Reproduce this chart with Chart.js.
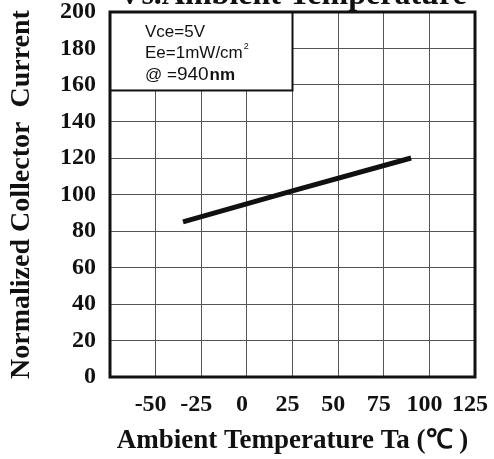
<!DOCTYPE html>
<html>
<head>
<meta charset="utf-8">
<script src="https://cdn.jsdelivr.net/npm/chart.js@4.4.0/dist/chart.umd.min.js"></script>
<style>
html, body { margin: 0; padding: 0; background: #fff; }
#frame { width: 494px; height: 459px; overflow: hidden; position: relative; }
#box { position: absolute; left: 0; top: -22px; width: 494px; height: 481px; }
</style>
</head>
<body>
<div id="frame"><div id="box"><canvas id="tempChart"></canvas></div></div>
<script>
// values
var temps = [-35, 25, 90];
var currents = [85, 102, 120];

var xMin = -75, xMax = 125, xStep = 25;
var yMin = 0, yMax = 200, yStep = 20;
var hiddenTick = -75;

var noteLines = ['Vce=5V', 'Ee=1mW/cm', '@ =940nm'];

var serif = "'Liberation Serif', 'Times New Roman', serif";
var sans = "'Liberation Sans', Arial, sans-serif";

var notePlugin = {
    id: 'note',
    beforeDatasetsDraw: function (chart) {
        var ctx = chart.ctx, xs = chart.scales.x, ys = chart.scales.y;
        var left = xs.getPixelForValue(xMin), right = xs.getPixelForValue(25);
        var top = ys.getPixelForValue(yMax), bottom = ys.getPixelForValue(157);
        ctx.save();
        ctx.fillStyle = '#fff';
        ctx.fillRect(left, top, right - left, bottom - top);
        ctx.strokeStyle = '#111';
        ctx.lineWidth = 2;
        ctx.strokeRect(left, top, right - left, bottom - top);
        ctx.fillStyle = '#111';
        ctx.textBaseline = 'alphabetic';
        ctx.font = '17px ' + sans;
        var tx = left + 35;
        ctx.fillText(noteLines[0], tx, top + 25);
        ctx.fillText(noteLines[1], tx, top + 46);
        var w = ctx.measureText(noteLines[1]).width;
        ctx.font = '9px ' + sans;
        ctx.fillText('2', tx + w + 1, top + 37);
        ctx.font = '17px ' + sans;
        ctx.fillText('@ =', tx, top + 68);
        var w2 = ctx.measureText('@ =').width;
        ctx.font = '19px ' + sans;
        ctx.fillText('940', tx + w2, top + 68);
        var w3 = ctx.measureText('940').width;
        ctx.font = 'bold 17px ' + sans;
        ctx.fillText('nm', tx + w2 + w3 + 1, top + 68);
        ctx.restore();
    },
    afterDraw: function (chart) {
        var a = chart.chartArea, ctx = chart.ctx;
        ctx.save();
        ctx.strokeStyle = '#111';
        ctx.lineWidth = 3;
        ctx.strokeRect(a.left, a.top, a.right - a.left, a.bottom - a.top);
        ctx.restore();
    }
};

var points = temps.map(function (t, i) { return { x: t, y: currents[i] }; });

new Chart(document.getElementById('tempChart'), {
    type: 'scatter',
    data: {
        datasets: [{
            data: points,
            showLine: true,
            borderColor: '#111',
            borderWidth: 5,
            borderCapStyle: 'butt',
            pointRadius: 0,
            tension: 0
        }]
    },
    plugins: [notePlugin],
    options: {
        responsive: true,
        maintainAspectRatio: false,
        animation: false,
        layout: { padding: { left: 0, right: 19, top: 0, bottom: 0 } },
        plugins: {
            legend: { display: false },
            tooltip: { enabled: false },
            title: {
                display: true,
                fullSize: false,
                text: 'Vs.Ambient Temperature',
                color: '#111',
                font: { family: serif, size: 32, weight: 'bold', lineHeight: 1 },
                padding: { top: 2, bottom: 0 }
            }
        },
        scales: {
            x: {
                type: 'linear',
                min: xMin,
                max: xMax,
                afterFit: function (s) { s.height = 82; s.paddingLeft = 0; s.paddingRight = 0; },
                ticks: {
                    stepSize: xStep,
                    padding: 13,
                    labelOffset: -5,
                    color: '#111',
                    font: { family: serif, size: 24, weight: 'bold' },
                    maxRotation: 0,
                    callback: function (v) { return v === hiddenTick ? '' : String(v); }
                },
                grid: { color: '#555', lineWidth: 1, drawTicks: false },
                border: { display: false },
                title: {
                    display: true,
                    text: 'Ambient Temperature Ta (℃ )',
                    color: '#111',
                    font: { family: serif, size: 27, weight: 'bold', lineHeight: 1.2 },
                    padding: { top: 0, bottom: 2 }
                }
            },
            y: {
                min: yMin,
                max: yMax,
                afterFit: function (s) { s.width = 110; },
                ticks: {
                    stepSize: yStep,
                    padding: 14,
                    color: '#111',
                    font: { family: serif, size: 24, weight: 'bold' }
                },
                grid: { color: '#555', lineWidth: 1, drawTicks: false },
                border: { display: false },
                title: {
                    display: true,
                    text: 'Normalized Collector  Current',
                    color: '#111',
                    font: { family: serif, size: 28, weight: 'bold', lineHeight: 1.2 },
                    padding: { top: 5, bottom: 0 }
                }
            }
        }
    }
});
</script>
</body>
</html>
